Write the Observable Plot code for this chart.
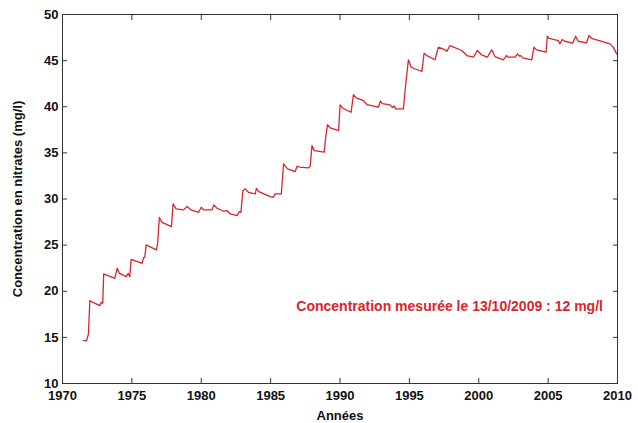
<!DOCTYPE html>
<html>
<head>
<meta charset="utf-8">
<script src="https://cdn.jsdelivr.net/npm/d3@7"></script>
<script src="https://cdn.jsdelivr.net/npm/@observablehq/plot@0.6"></script>
<style>
  html, body { margin: 0; padding: 0; background: #fff; }
  #chart { width: 638px; height: 423px; }
</style>
</head>
<body>
<div id="chart"></div>
<script>
// Measured nitrate concentration (mg/l) by year
const years = [
  1971.50, 1971.73, 1971.87, 1971.97, 1972.05, 1972.69, 1972.79, 1972.90, 1972.97, 1973.77,
  1973.94, 1974.10, 1974.59, 1974.73, 1974.85, 1974.95, 1975.74, 1975.85, 1975.93, 1976.03,
  1976.77, 1976.85, 1976.98, 1977.18, 1977.85, 1977.97, 1978.19, 1978.73, 1978.98, 1979.27,
  1979.81, 1980.00, 1980.17, 1980.78, 1980.90, 1981.14, 1981.61, 1981.85, 1982.10, 1982.58,
  1982.74, 1982.86, 1983.00, 1983.17, 1983.40, 1983.90, 1983.97, 1984.15, 1984.97, 1985.20,
  1985.33, 1985.77, 1985.93, 1986.22, 1986.77, 1986.90, 1987.10, 1987.73, 1987.85, 1987.98,
  1988.14, 1988.86, 1988.98, 1989.10, 1989.30, 1989.90, 1990.01, 1990.20, 1990.80, 1990.97,
  1991.17, 1991.69, 1991.94, 1992.77, 1992.90, 1993.05, 1993.60, 1993.80, 1993.90, 1994.02,
  1994.57, 1994.69, 1994.93, 1995.13, 1995.90, 1996.06, 1996.26, 1996.85, 1997.09, 1997.57,
  1997.70, 1997.93, 1998.15, 1998.78, 1999.14, 1999.62, 1999.90, 2000.20, 2000.62, 2000.93,
  2001.17, 2001.77, 2002.00, 2002.12, 2002.62, 2002.79, 2002.91, 2003.03, 2003.17, 2003.82,
  2003.98, 2004.17, 2004.85, 2004.94, 2005.08, 2005.73, 2005.85, 2006.02, 2006.21, 2006.77,
  2006.98, 2007.17, 2007.77, 2007.94, 2008.13, 2008.37, 2008.92, 2009.45, 2009.69, 2009.94
];
const concentrations = [
  14.64, 14.64, 15.37, 18.98, 18.90, 18.44, 18.80, 18.70, 21.88, 21.40,
  22.50, 21.94, 21.58, 21.94, 21.58, 23.46, 23.03, 23.68, 23.68, 25.02,
  24.48, 25.10, 28.00, 27.47, 27.00, 29.47, 28.93, 28.82, 29.18, 28.82,
  28.56, 29.10, 28.82, 28.82, 29.36, 29.00, 28.67, 28.75, 28.38, 28.20,
  28.63, 28.55, 30.90, 31.10, 30.73, 30.55, 31.16, 30.80, 30.26, 30.19,
  30.55, 30.55, 33.80, 33.27, 32.97, 33.55, 33.45, 33.37, 33.55, 35.79,
  35.25, 35.07, 36.80, 38.07, 37.71, 37.42, 40.21, 39.84, 39.40, 41.32,
  40.96, 40.67, 40.24, 39.95, 40.60, 40.35, 40.20, 39.90, 40.10, 39.77,
  39.77, 41.76, 45.09, 44.28, 43.82, 45.80, 45.55, 45.09, 46.46, 46.17,
  46.00, 46.64, 46.50, 46.10, 45.55, 45.37, 46.10, 45.63, 45.37, 46.17,
  45.44, 45.09, 45.55, 45.37, 45.37, 45.73, 45.50, 45.55, 45.30, 45.09,
  46.46, 46.17, 45.91, 47.65, 47.40, 47.18, 46.82, 47.29, 47.10, 46.89,
  47.65, 47.10, 46.93, 47.72, 47.40, 47.30, 47.07, 46.82, 46.46, 45.73
];
const xTicks = [1970, 1975, 1980, 1985, 1990, 1995, 2000, 2005, 2010];
const yTicks = [10, 15, 20, 25, 30, 35, 40, 45, 50];
const xLabel = "Années";
const yLabel = "Concentration en nitrates (mg/l)";
const annotationText = "Concentration mesurée le 13/10/2009 : 12 mg/l";
const annotationYear = 1997.9;
const annotationValue = 18.3;

const data = years.map((year, i) => ({year, value: concentrations[i]}));

const red = "#d7262c";
const axisColor = "#333333";
const font = "'Liberation Sans', Arial, Helvetica, sans-serif";

const chart = Plot.plot({
  width: 638,
  height: 423,
  marginLeft: 62,
  marginRight: 21,
  marginTop: 14,
  marginBottom: 40,
  style: {fontFamily: font, fontSize: "13px", background: "#fff", color: "#111"},
  x: {domain: [1970, 2010]},
  y: {domain: [10, 50]},
  marks: [
    Plot.axisX(xTicks, {
      anchor: "bottom", tickSize: -5, tickPadding: 12, tickFormat: "d",
      fontWeight: "bold", fontSize: 13, stroke: axisColor, fill: "#111",
      label: xLabel, labelAnchor: "center", labelOffset: 36, labelArrow: false
    }),
    Plot.axisX(xTicks, {anchor: "top", tickSize: -5, tickFormat: () => "", label: null, stroke: axisColor}),
    Plot.axisY(yTicks, {
      anchor: "left", tickSize: -5, tickPadding: 9,
      fontWeight: "bold", fontSize: 13, stroke: axisColor, fill: "#111",
      label: yLabel, labelAnchor: "center", labelOffset: 50, labelArrow: false
    }),
    Plot.axisY(yTicks, {anchor: "right", tickSize: -5, tickFormat: () => "", label: null, stroke: axisColor}),
    Plot.frame({stroke: axisColor, strokeWidth: 1}),
    Plot.line(data, {x: "year", y: "value", stroke: red, strokeWidth: 1.3, curve: "linear"}),
    Plot.text([annotationText], {
      x: () => annotationYear, y: () => annotationValue, text: d => d,
      fill: red, fontWeight: "bold", fontSize: 14, textAnchor: "middle"
    })
  ]
});
document.getElementById("chart").appendChild(chart);
</script>
</body>
</html>
